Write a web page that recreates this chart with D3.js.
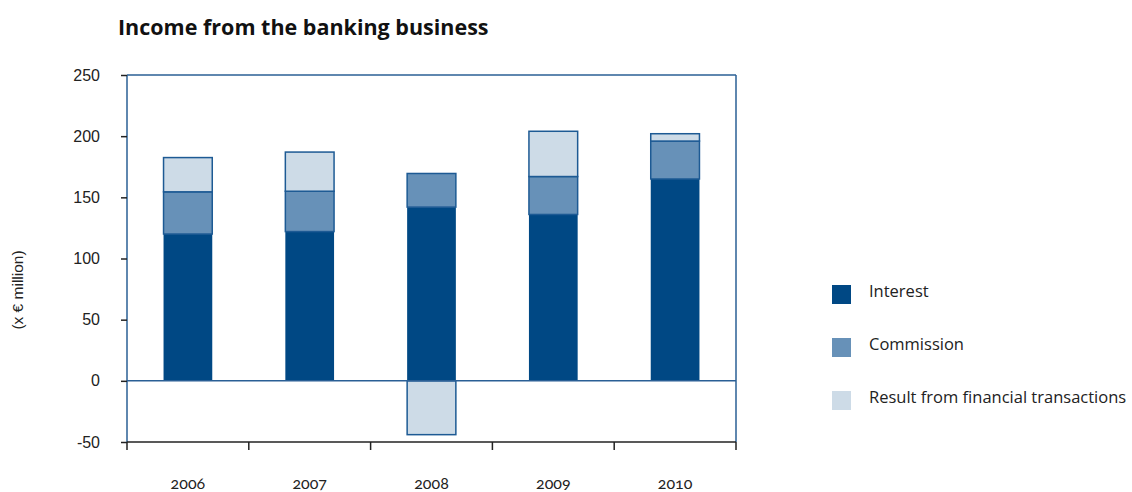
<!DOCTYPE html>
<html>
<head>
<meta charset="utf-8">
<script src="https://cdn.jsdelivr.net/npm/d3@7"></script>
<style>
  body { margin: 0; background: #fff; }
  svg { display: block; }
</style>
</head>
<body>
<div id="container"></div>
<script>
// data (x € million)
let years = ["2006", "2007", "2008", "2009", "2010"];
let interest = [120, 122, 142, 136, 165];
let commission = [34.5, 33, 27.5, 31, 31];
let financial = [28, 32, -44, 37, 6];
let seriesNames = ["Interest", "Commission", "Result from financial transactions"];
let yTicks = [-50, 0, 50, 100, 150, 200, 250];

let colors = ["#004884", "#6791b8", "#cddbe7"];

let w = 1132;
let h = 492;
let margin = {left: 127, right: 396, top: 75, bottom: 50};

let viz = d3.select("#container")
  .append("svg")
    .attr("width", w)
    .attr("height", h)
;

let x = d3.scaleBand()
  .domain(years)
  .range([margin.left, w - margin.right])
  .paddingInner(0.6)
  .paddingOuter(0.3)
;
let xTicks = d3.scaleBand().domain(years).range([margin.left, w - margin.right]);

let y = d3.scaleLinear()
  .domain([-50, 250])
  .range([h - margin.bottom, margin.top])
;

// title
viz.append("text")
  .attr("x", 118)
  .attr("y", 35)
  .attr("font-family", "Open Sans")
  .attr("font-weight", "bold")
  .attr("font-size", 21.5)
  .attr("fill", "#111")
  .text("Income from the banking business")
;

// y axis title
viz.append("text")
  .attr("transform", "translate(23,290) rotate(-90)")
  .attr("text-anchor", "middle")
  .attr("font-family", "Liberation Sans")
  .attr("font-size", 15.5)
  .attr("fill", "#222")
  .text("(x € million)")
;

// build stacked segments; negative values go below zero
let segments = [];
years.forEach(function(yr, i) {
  let vals = [interest[i], commission[i], financial[i]];
  let pos = 0, neg = 0;
  vals.forEach(function(v, k) {
    if (v >= 0) {
      segments.push({year: yr, k: k, y0: pos, y1: pos + v});
      pos += v;
    } else {
      segments.push({year: yr, k: k, y0: neg + v, y1: neg});
      neg += v;
    }
  });
});

let barGroup = viz.append("g");
barGroup.selectAll("rect").data(segments).enter()
  .append("rect")
    .attr("x", d => x(d.year))
    .attr("width", x.bandwidth())
    .attr("y", d => y(d.y1))
    .attr("height", d => y(d.y0) - y(d.y1))
    .attr("fill", d => colors[d.k])
    .attr("stroke", d => d.k == 0 ? "none" : "#1d5a94")
    .attr("stroke-width", 1.5)
;

// frame: left, top, right in blue
let frame = viz.append("g").attr("stroke", "#2a5f95").attr("stroke-width", 1.5).attr("fill", "none");
frame.append("line")
  .attr("x1", margin.left).attr("x2", margin.left)
  .attr("y1", y(250)).attr("y2", y(-50));
frame.append("line")
  .attr("x1", margin.left).attr("x2", w - margin.right)
  .attr("y1", y(250)).attr("y2", y(250));
frame.append("line")
  .attr("x1", w - margin.right).attr("x2", w - margin.right)
  .attr("y1", y(250)).attr("y2", y(-50));
// zero line
viz.append("line")
  .attr("x1", margin.left).attr("x2", w - margin.right)
  .attr("y1", y(0)).attr("y2", y(0))
  .attr("stroke", "#2a5f95")
  .attr("stroke-width", 1.5)
;

// y axis
let yAxis = viz.append("g")
  .attr("transform", "translate(" + margin.left + ",0)")
  .call(d3.axisLeft(y).tickValues(yTicks).tickSize(6).tickPadding(21).tickFormat(d => String(d)))
;
yAxis.select(".domain").remove();
yAxis.selectAll("line").attr("stroke", "#222").attr("stroke-width", 1.5);
yAxis.selectAll("text")
  .attr("font-family", "Liberation Sans")
  .attr("font-size", 16)
  .attr("fill", "#222")
;

// x axis: ticks at category boundaries
let xg = viz.append("g");
xg.append("line")
  .attr("x1", margin.left).attr("x2", w - margin.right)
  .attr("y1", y(-50)).attr("y2", y(-50))
  .attr("stroke", "#222").attr("stroke-width", 1.5);
let bounds = years.map(d => xTicks(d)).concat([w - margin.right]);
xg.selectAll(".xtick").data(bounds).enter()
  .append("line")
    .attr("class", "xtick")
    .attr("x1", d => d).attr("x2", d => d)
    .attr("y1", y(-50)).attr("y2", y(-50) + 8)
    .attr("stroke", "#222").attr("stroke-width", 1.5)
;
xg.selectAll(".xlabel").data(years).enter()
  .append("text")
    .attr("class", "xlabel")
    .attr("x", d => xTicks(d) + xTicks.bandwidth() / 2)
    .attr("y", 489)
    .attr("text-anchor", "middle")
    .attr("font-family", "Lato")
    .attr("font-size", 16)
    .style("font-variant-numeric", "oldstyle-nums")
    .attr("fill", "#222")
    .text(d => d)
;

// legend
let legend = viz.append("g").attr("transform", "translate(832,285)");
let items = legend.selectAll("g").data(seriesNames).enter()
  .append("g")
    .attr("transform", (d, i) => "translate(0," + i * 53 + ")")
;
items.append("rect")
  .attr("width", 19)
  .attr("height", 19)
  .attr("fill", (d, i) => colors[i])
;
items.append("text")
  .attr("x", 37)
  .attr("y", 10)
  .attr("dy", "0.1em")
  .attr("font-family", "Open Sans")
  .attr("font-size", 16.5)
  .attr("fill", "#222")
  .text(d => d)
;
</script>
</body>
</html>
